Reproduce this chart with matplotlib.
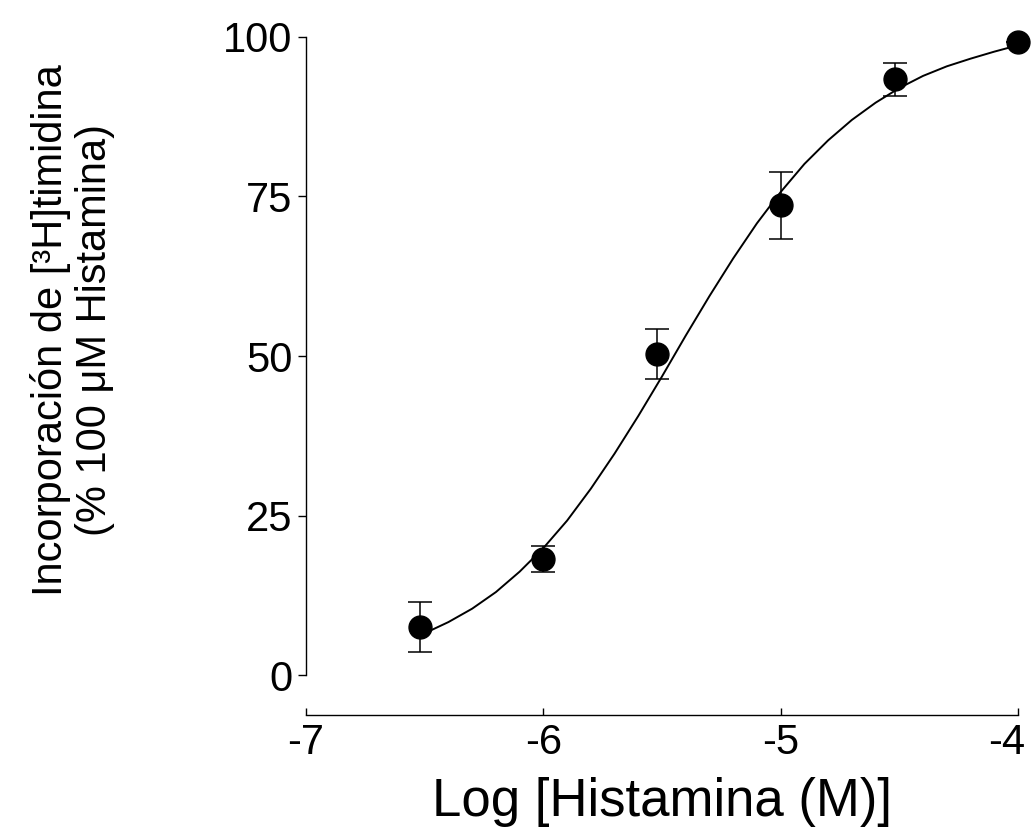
import numpy as np
import matplotlib
matplotlib.use("Agg")
import matplotlib.pyplot as plt
import matplotlib.transforms as mtransforms

plt.rcParams["font.family"] = ["Liberation Sans", "DejaVu Sans"]

# puntos experimentales (media +/- error)
log_hist = [-6.52, -6.0, -5.52, -5.0, -4.52, -4.0]
incorp = [7.5, 18.2, 50.3, 73.6, 93.4, 99.2]
err = [3.9, 2.0, 3.9, 5.2, 2.6, 0.0]

# curva ajustada
curva_x = [-6.52, -6.4, -6.3, -6.2, -6.1, -6.0, -5.9, -5.8, -5.7, -5.6, -5.5,
           -5.4, -5.3, -5.2, -5.1, -5.0, -4.9, -4.8, -4.7, -4.6, -4.5, -4.4,
           -4.3, -4.2, -4.1, -4.0]
curva_y = [6.2, 8.3, 10.4, 13.0, 16.2, 19.9, 24.2, 29.2, 34.7, 40.6, 46.8,
           53.2, 59.4, 65.3, 70.8, 75.7, 80.1, 83.8, 87.0, 89.7, 92.0, 93.9,
           95.4, 96.6, 97.7, 98.7]

yticks = [0, 25, 50, 75, 100]
xticks = [-7, -6, -5, -4]

fig = plt.figure(figsize=(10.34, 8.31), dpi=100)
ax = fig.add_axes([0.296, 0.1877, 0.9845 - 0.296, 0.9555 - 0.1877])

ax.plot(curva_x, curva_y, color="black", lw=1.4, clip_on=False)
ax.errorbar(log_hist, incorp, yerr=err, fmt="o", color="black", ms=16.5,
            elinewidth=1.1, capsize=8.5, capthick=1.1, clip_on=False)

ax.set_xlim(-7, -4)
ax.set_ylim(0, 100)
ax.set_xticks(xticks)
ax.set_xticklabels(["-7", "-6", "-5", "-4"])
ax.set_yticks(yticks)

ax.spines["top"].set_visible(False)
ax.spines["right"].set_visible(False)
ax.spines["bottom"].set_position(("outward", 28.8))
ax.spines["left"].set_linewidth(1.0)
ax.spines["bottom"].set_linewidth(1.0)

ax.tick_params(axis="y", direction="out", length=6, width=1.0,
               labelsize=30, pad=4)
ax.tick_params(axis="x", direction="in", length=5, width=1.0,
               labelsize=30, pad=6)

# el "-4" toca el borde derecho: se corre un poco a la izquierda
lbl = ax.get_xticklabels()[-1]
lbl.set_transform(lbl.get_transform() +
                  mtransforms.ScaledTranslation(-8 / 72, 0, fig.dpi_scale_trans))

ax.set_xlabel("Log [Histamina (M)]", fontsize=38, labelpad=10)
ax.set_ylabel("Incorporación de [³H]timidina\n(% 100 μM Histamina)",
              fontsize=30, linespacing=1.15)
ax.yaxis.set_label_coords(-0.268, 0.54)

plt.savefig("out.png", dpi=100)
